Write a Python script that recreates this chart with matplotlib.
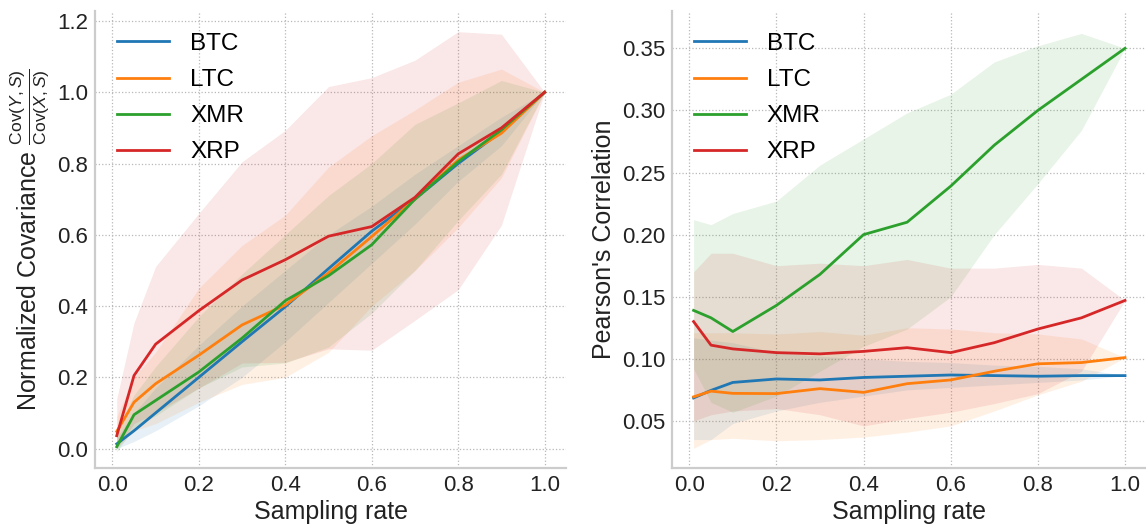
import numpy as np
import matplotlib
matplotlib.use("Agg")
import matplotlib.pyplot as plt

plt.rcParams['font.family'] = ['Liberation Sans', 'DejaVu Sans']
plt.rcParams['mathtext.fontset'] = 'custom'
plt.rcParams['mathtext.rm'] = 'Liberation Sans'
plt.rcParams['mathtext.it'] = 'Liberation Sans:italic'
plt.rcParams['mathtext.bf'] = 'Liberation Sans:bold'

# ---------------- data ----------------
rates = [0.01, 0.05, 0.1, 0.2, 0.3, 0.4, 0.5, 0.6, 0.7, 0.8, 0.9, 1.0]
coins = ["BTC", "LTC", "XMR", "XRP"]
colors = ["#1f77b4", "#ff7f0e", "#2ca02c", "#d62728"]

# Left: normalized covariance (mean, lower, upper)
cov_btc = [0.013, 0.05, 0.10, 0.20, 0.30, 0.398, 0.505, 0.61, 0.70, 0.80, 0.89, 1.0]
cov_btc_lo = [0.0, 0.02, 0.05, 0.12, 0.20, 0.30, 0.41, 0.52, 0.63, 0.75, 0.85, 1.0]
cov_btc_hi = [0.03, 0.10, 0.17, 0.29, 0.40, 0.50, 0.60, 0.68, 0.77, 0.85, 0.93, 1.0]

cov_ltc = [0.048, 0.13, 0.182, 0.262, 0.347, 0.403, 0.493, 0.595, 0.70, 0.81, 0.885, 1.0]
cov_ltc_lo = [0.0, 0.05, 0.07, 0.13, 0.18, 0.20, 0.27, 0.40, 0.50, 0.62, 0.76, 1.0]
cov_ltc_hi = [0.09, 0.20, 0.27, 0.45, 0.57, 0.655, 0.79, 0.878, 0.95, 1.028, 1.065, 1.0]

cov_xmr = [0.005, 0.095, 0.135, 0.215, 0.31, 0.415, 0.485, 0.572, 0.70, 0.805, 0.895, 1.0]
cov_xmr_lo = [-0.01, 0.06, 0.092, 0.17, 0.229, 0.24, 0.285, 0.38, 0.50, 0.64, 0.77, 1.0]
cov_xmr_hi = [0.05, 0.15, 0.23, 0.37, 0.49, 0.60, 0.71, 0.80, 0.91, 0.97, 1.033, 1.0]

cov_xrp = [0.036, 0.205, 0.293, 0.387, 0.473, 0.53, 0.596, 0.623, 0.705, 0.827, 0.90, 1.0]
cov_xrp_lo = [0.0, 0.07, 0.10, 0.17, 0.24, 0.242, 0.28, 0.276, 0.36, 0.446, 0.627, 1.0]
cov_xrp_hi = [0.14, 0.353, 0.511, 0.66, 0.805, 0.893, 1.016, 1.041, 1.09, 1.17, 1.163, 1.0]

# Right: Pearson's correlation (mean, lower, upper)
cor_btc = [0.0685, 0.0746, 0.081, 0.0838, 0.083, 0.085, 0.086, 0.087, 0.0865, 0.086, 0.0865, 0.0865]
cor_btc_lo = [0.035, 0.035, 0.048, 0.058, 0.065, 0.070, 0.075, 0.077, 0.079, 0.081, 0.083, 0.0865]
cor_btc_hi = [0.117, 0.115, 0.113, 0.105, 0.102, 0.100, 0.098, 0.097, 0.095, 0.094, 0.092, 0.0865]

cor_ltc = [0.0694, 0.074, 0.0722, 0.072, 0.076, 0.073, 0.080, 0.083, 0.090, 0.096, 0.097, 0.101]
cor_ltc_lo = [0.028, 0.035, 0.036, 0.034, 0.035, 0.037, 0.041, 0.046, 0.058, 0.071, 0.082, 0.101]
cor_ltc_hi = [0.121, 0.121, 0.121, 0.120, 0.122, 0.119, 0.125, 0.124, 0.121, 0.120, 0.116, 0.101]

cor_xmr = [0.139, 0.133, 0.122, 0.143, 0.168, 0.200, 0.210, 0.239, 0.272, 0.300, 0.325, 0.350]
cor_xmr_lo = [0.092, 0.065, 0.057, 0.070, 0.090, 0.110, 0.124, 0.150, 0.200, 0.241, 0.284, 0.350]
cor_xmr_hi = [0.212, 0.208, 0.217, 0.227, 0.256, 0.277, 0.298, 0.313, 0.339, 0.352, 0.362, 0.350]

cor_xrp = [0.130, 0.111, 0.108, 0.105, 0.104, 0.106, 0.109, 0.105, 0.113, 0.124, 0.133, 0.147]
cor_xrp_lo = [0.050, 0.055, 0.058, 0.060, 0.055, 0.046, 0.052, 0.057, 0.064, 0.072, 0.090, 0.147]
cor_xrp_hi = [0.170, 0.185, 0.185, 0.175, 0.177, 0.175, 0.180, 0.173, 0.173, 0.176, 0.173, 0.147]

cov_series = [(cov_btc, cov_btc_lo, cov_btc_hi), (cov_ltc, cov_ltc_lo, cov_ltc_hi),
              (cov_xmr, cov_xmr_lo, cov_xmr_hi), (cov_xrp, cov_xrp_lo, cov_xrp_hi)]
cor_series = [(cor_btc, cor_btc_lo, cor_btc_hi), (cor_ltc, cor_ltc_lo, cor_ltc_hi),
              (cor_xmr, cor_xmr_lo, cor_xmr_hi), (cor_xrp, cor_xrp_lo, cor_xrp_hi)]

xticks = [0.0, 0.2, 0.4, 0.6, 0.8, 1.0]
cov_yticks = [0.0, 0.2, 0.4, 0.6, 0.8, 1.0, 1.2]
cor_yticks = [0.05, 0.10, 0.15, 0.20, 0.25, 0.30, 0.35]

# ---------------- figure ----------------
fig = plt.figure(figsize=(11.46, 5.26), dpi=100)
ax1 = fig.add_axes([0.0832, 0.110, 0.4107, 0.869])
ax2 = fig.add_axes([0.5864, 0.110, 0.4141, 0.869])


def style(ax):
    ax.set_facecolor('white')
    ax.grid(True, color='#b8b8b8', linestyle=':', linewidth=0.9)
    ax.set_axisbelow(True)
    for s in ['top', 'right']:
        ax.spines[s].set_visible(False)
    for s in ['left', 'bottom']:
        ax.spines[s].set_color('#cccccc')
        ax.spines[s].set_linewidth(1.6)
    ax.tick_params(axis='both', length=0, labelsize=16, pad=5, labelcolor='#222222')


for ax, series in [(ax1, cov_series), (ax2, cor_series)]:
    for name, col, (m, lo, hi) in zip(coins, colors, series):
        ax.fill_between(rates, lo, hi, color=col, alpha=0.11, linewidth=0)
        ax.plot(rates, m, color=col, lw=2.0, label=name)
    style(ax)
    ax.set_xticks(xticks)
    ax.set_xlim(-0.0395, 1.0495)
    ax.set_xlabel('Sampling rate', fontsize=18, labelpad=3, color='#222222')
    ax.legend(loc='upper left', frameon=False, fontsize=17.5, labelspacing=0.58,
              handlelength=2.15, handletextpad=0.85)

ax1.set_yticks(cov_yticks)
ax1.set_ylim(-0.055, 1.228)
ax1.set_ylabel(r'Normalized Covariance $\frac{\mathrm{Cov}(Y,S)}{\mathrm{Cov}(X,S)}$',
               fontsize=18, color='#222222')

ax2.set_yticks(cor_yticks)
ax2.set_ylim(0.012, 0.38)
ax2.set_ylabel("Pearson's Correlation", fontsize=18, color='#222222')

fig.savefig('out.png', dpi=100)
